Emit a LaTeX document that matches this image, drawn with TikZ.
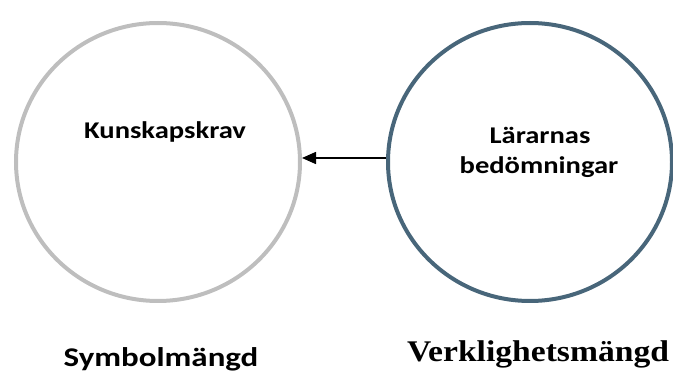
\documentclass[tikz,border=0pt]{standalone}
\usepackage{fontspec}
\setmainfont{Carlito}
\newfontfamily\labelfont[FakeStretch=1.19]{Carlito}
\newfontfamily\capfont[FakeStretch=1.22]{Carlito}
\newfontfamily\timesfont[FakeStretch=1.12]{Liberation Serif}
\usetikzlibrary{shapes.geometric,arrows.meta}
\definecolor{ringgrey}{RGB}{190,190,190}
\definecolor{ringblue}{RGB}{72,102,122}
\tikzset{
  ring/.style={ellipse, draw, line width=4pt, minimum width=284pt, minimum height=278pt, inner sep=0pt},
  label/.style={font=\labelfont\bfseries\fontsize{24}{30}\selectfont, anchor=base, inner sep=0pt, text=black},
  title/.style={font=\capfont\bfseries\fontsize{27}{32}\selectfont, anchor=base, inner sep=0pt, text=black}
}
\begin{document}
\begin{tikzpicture}[x=1pt,y=-1pt]
  \useasboundingbox (0,0) rectangle (673,374);
  % the two sets
  \node[ring, draw=ringgrey] (sym) at (158,162) {};
  \node[ring, draw=ringblue] (real) at (530,162) {};
  % their contents
  \node[label] (krav) at (165,139) {Kunskapskrav};
  \node[label] (lar) at (540,144) {Lärarnas};
  \node[label] (bed) at (539,174) {bedömningar};
  % relation between the sets
  \draw[line width=1.5pt, -{Triangle[length=14pt,width=12pt]}] (real.west |- 0,158) -- (sym.east |- 0,158);
  % captions
  \node[title] (symcap) at (161,367) {Symbolmängd};
  \node[title, font=\timesfont\bfseries\fontsize{30}{34}\selectfont] (realcap) at (538,362) {Verklighetsmängd};
\end{tikzpicture}
\end{document}
